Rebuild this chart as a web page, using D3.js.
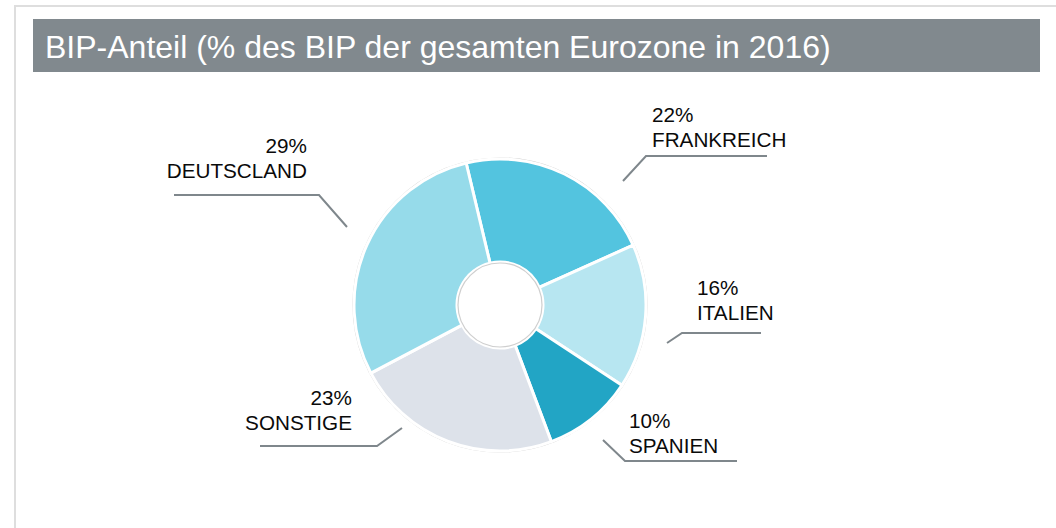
<!DOCTYPE html>
<html>
<head>
<meta charset="utf-8">
<script src="https://cdn.jsdelivr.net/npm/d3@7"></script>
<style>
  html, body { margin: 0; padding: 0; background: #fff; }
  svg { display: block; font-family: "Liberation Sans", Arial, sans-serif; }
</style>
</head>
<body>
<svg id="chart"></svg>
<script>
// data, clockwise from the top
const categories = ['FRANKREICH', 'ITALIEN', 'SPANIEN', 'SONSTIGE', 'DEUTSCLAND'];
const shares = [22, 16, 10, 23, 29];
const colors = ['#53c4df', '#b7e6f1', '#22a5c5', '#dde2ea', '#96dbea'];
const title = 'BIP-Anteil (% des BIP der gesamten Eurozone in 2016)';

// label placement (leader line + text), one per category
const labelLayout = [
  { line: [[623, 181], [646, 156], [767, 156]], x: 652, y: 122, anchor: 'start' },
  { line: [[667, 343], [682, 333], [761, 333]], x: 697, y: 295, anchor: 'start' },
  { line: [[603, 440], [625, 461], [737, 461]], x: 629, y: 428, anchor: 'start' },
  { line: [[402, 428], [377, 446], [260, 446]], x: 352, y: 405, anchor: 'end' },
  { line: [[347, 227], [319, 195], [174, 195]], x: 307, y: 153, anchor: 'end' }
];

const width = 1056;
const height = 528;
const cx = 500;
const cy = 305;
const outerR = 146;
const innerR = 43;
const start = -13.4 * Math.PI / 180;

const svg = d3.select('#chart')
  .attr('width', width)
  .attr('height', height);

// outer frame
svg.append('rect')
  .attr('x', 15).attr('y', 6)
  .attr('width', width + 10).attr('height', height + 10)
  .attr('fill', 'none')
  .attr('stroke', '#dedede')
  .attr('stroke-width', 2);

// title bar
svg.append('rect')
  .attr('x', 33).attr('y', 19)
  .attr('width', 1007).attr('height', 53)
  .attr('fill', '#81898e');
svg.append('text')
  .attr('x', 45).attr('y', 58)
  .attr('fill', '#fff')
  .style('font-size', '32px')
  .text(title);

const pie = d3.pie()
  .sort(null)
  .value(d => d)
  .startAngle(start)
  .endAngle(start + 2 * Math.PI);
const arc = d3.arc().innerRadius(innerR).outerRadius(outerR);

const g = svg.append('g').attr('transform', `translate(${cx},${cy})`);

// faint gray rims
g.append('circle').attr('r', outerR + 1).attr('fill', 'none')
  .attr('stroke', '#cfcfcf').attr('stroke-width', 1.2);

g.selectAll('path.slice')
  .data(pie(shares))
  .join('path')
  .attr('class', 'slice')
  .attr('d', arc)
  .attr('fill', (d, i) => colors[i])
  .attr('stroke', '#fff')
  .attr('stroke-width', 3)
  .attr('stroke-linejoin', 'round');

g.append('circle').attr('r', innerR - 1).attr('fill', '#fff')
  .attr('stroke', '#cfcfcf').attr('stroke-width', 1.2);

// labels
const line = d3.line();
const lab = svg.selectAll('g.label')
  .data(categories)
  .join('g')
  .attr('class', 'label');

lab.append('path')
  .attr('d', (d, i) => line(labelLayout[i].line))
  .attr('fill', 'none')
  .attr('stroke', '#7f878c')
  .attr('stroke-width', 2);

const txt = lab.append('text')
  .attr('text-anchor', (d, i) => labelLayout[i].anchor)
  .attr('fill', '#0a0a0a')
  .style('font-size', '20.7px');
txt.append('tspan')
  .attr('x', (d, i) => labelLayout[i].x)
  .attr('y', (d, i) => labelLayout[i].y)
  .text((d, i) => shares[i] + '%');
txt.append('tspan')
  .attr('x', (d, i) => labelLayout[i].x)
  .attr('y', (d, i) => labelLayout[i].y + 25)
  .text(d => d);
</script>
</body>
</html>
